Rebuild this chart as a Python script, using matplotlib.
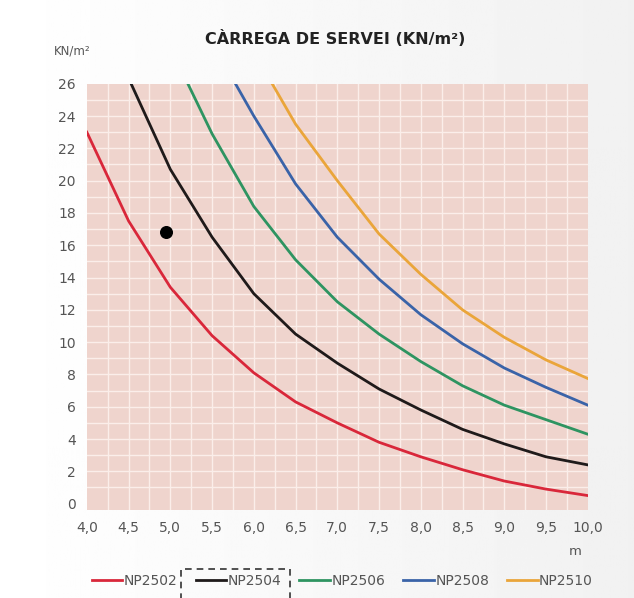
import numpy as np
import matplotlib.pyplot as plt
from matplotlib.patches import Rectangle

# span (m) and service load (KN/m2)
x_red = [4.0, 4.5, 5.0, 5.5, 6.0, 6.5, 7.0, 7.5, 8.0, 8.5, 9.0, 9.5, 10.0]
np2502 = [23.0, 17.5, 13.4, 10.4, 8.1, 6.3, 5.0, 3.8, 2.9, 2.1, 1.4, 0.9, 0.5]

x_black = [4.53, 5.0, 5.5, 6.0, 6.5, 7.0, 7.5, 8.0, 8.5, 9.0, 9.5, 10.0]
np2504 = [26.0, 20.7, 16.5, 13.0, 10.5, 8.7, 7.1, 5.8, 4.6, 3.7, 2.9, 2.4]

x_green = [5.21, 5.5, 6.0, 6.5, 7.0, 7.5, 8.0, 8.5, 9.0, 9.5, 10.0]
np2506 = [26.0, 22.9, 18.4, 15.1, 12.5, 10.5, 8.8, 7.3, 6.1, 5.2, 4.3]

x_blue = [5.78, 6.0, 6.5, 7.0, 7.5, 8.0, 8.5, 9.0, 9.5, 10.0]
np2508 = [26.0, 24.0, 19.8, 16.5, 13.9, 11.7, 9.9, 8.4, 7.2, 6.1]

x_orange = [6.22, 6.5, 7.0, 7.5, 8.0, 8.5, 9.0, 9.5, 10.0]
np2510 = [26.0, 23.5, 20.0, 16.7, 14.2, 12.0, 10.3, 8.9, 7.75]

point_x = [4.95]
point_y = [16.8]

xticks = [4.0, 4.5, 5.0, 5.5, 6.0, 6.5, 7.0, 7.5, 8.0, 8.5, 9.0, 9.5, 10.0]
yticks = list(range(0, 27, 2))

fig = plt.figure(figsize=(6.34, 5.98), dpi=100)

# light background, white on the left going grey on the right
bg = fig.add_axes([0, 0, 1, 1])
grad = np.linspace(1.0, 0.945, 256).reshape(1, -1)
bg.imshow(np.repeat(grad, 2, axis=0), cmap='gray', vmin=0, vmax=1,
          aspect='auto', extent=[0, 1, 0, 1])
bg.axis('off')

ax = fig.add_axes([0.137, 0.147, 0.79, 0.713])
ax.set_facecolor('#efd4cd')
ax.set_xlim(4.0, 10.0)
ax.set_ylim(-0.4, 26)

for gx in np.arange(4.25, 10.0, 0.25):
    ax.axvline(gx, color='#fbeeea', lw=1.0, zorder=1)
for gy in range(1, 26):
    ax.axhline(gy, color='#fbeeea', lw=1.0, zorder=1)

c_red = '#d9273a'
c_black = '#1f1a1a'
c_green = '#2e9461'
c_blue = '#3a63a8'
c_orange = '#eaa53a'

ax.plot(x_red, np2502, color=c_red, lw=2, label='NP2502', zorder=3)
ax.plot(x_black, np2504, color=c_black, lw=2, label='NP2504', zorder=3)
ax.plot(x_green, np2506, color=c_green, lw=2, label='NP2506', zorder=3)
ax.plot(x_blue, np2508, color=c_blue, lw=2, label='NP2508', zorder=3)
ax.plot(x_orange, np2510, color=c_orange, lw=2, label='NP2510', zorder=3)
ax.scatter(point_x, point_y, s=70, color='black', zorder=4)

for s in ax.spines.values():
    s.set_visible(False)
ax.set_xticks(xticks)
ax.set_xticklabels([f'{v:.1f}'.replace('.', ',') for v in xticks])
ax.set_yticks(yticks)
ax.set_yticklabels([str(v) for v in yticks])
ax.tick_params(length=0, labelsize=10, labelcolor='#555555', pad=8)

fig.text(0.528, 0.935, 'CÀRREGA DE SERVEI (KN/m²)', ha='center', va='center',
         fontsize=11.5, fontweight='heavy', color='#222222')
fig.text(0.085, 0.915, 'KN/m²', ha='left', va='center', fontsize=8.5, color='#555555')
fig.text(0.908, 0.078, 'm', ha='center', va='center', fontsize=9.5, color='#555555')

leg = fig.legend(loc='center', bbox_to_anchor=(0.54, 0.028), ncol=5, frameon=False,
                 fontsize=10, handlelength=2.2, handletextpad=0.1, columnspacing=1.3)
for t in leg.get_texts():
    t.set_color('#555555')

# dashed box around the highlighted series
fig.patches.append(Rectangle((0.285, -0.01), 0.172, 0.058, transform=fig.transFigure,
                             fill=False, ls=(0, (4, 3)), lw=1.2, ec='#333333'))

fig.savefig('out.png', dpi=100)
